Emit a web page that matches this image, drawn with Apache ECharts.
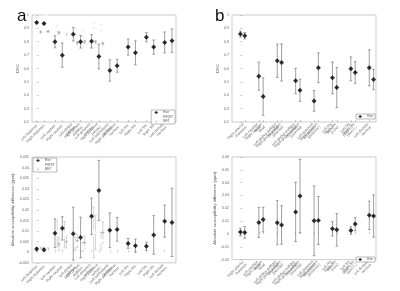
<!DOCTYPE html>
<html>
<head>
<meta charset="utf-8">
<script src="https://cdn.jsdelivr.net/npm/echarts@6/dist/echarts.min.js"></script>
<style>
html, body { margin: 0; padding: 0; background: #fff; }
#chart { width: 400px; height: 291px; }
</style>
</head>
<body>
<div id="chart"></div>
<script>
// region labels (two per group, left / right)
var aLabels = ['Left thalamus', 'Right thalamus', 'Left caudate', 'Right caudate',
    'Left globus\npallidus', 'Right globus\npallidus', 'Left putamen\n(whole)', 'Right putamen\n(whole)',
    'Left subthalamic\nnucleus', 'Right subthalamic\nnucleus', 'Left RN', 'Right RN',
    'Left SN', 'Right SN', 'Left dentate\nnucleus', 'Right dentate\nnucleus'];
var bLabels = ['Left anterior\nthalamus', 'Right anterior\nthalamus', 'Left caudate\nhead', 'Right caudate\nhead',
    'Left globus pallidus\n(internal)', 'Right globus pallidus\n(internal)', 'Left globus pallidus\n(external)', 'Right globus pallidus\n(external)',
    'Left putamen\n(posterior)', 'Right putamen\n(posterior)', 'Left RN\n(core)', 'Right RN\n(core)',
    'Left SN\n(pars c.)', 'Right SN\n(pars c.)', 'Left dentate\nnucleus', 'Right dentate\nnucleus'];

// panel a, DSC
var aDscEve = [0.943, 0.936, 0.80, 0.70, 0.856, 0.80, 0.803, 0.69, 0.585, 0.62, 0.76, 0.717, 0.834, 0.76, 0.795, 0.808];
var aDscEveErr = [0.008, 0.008, 0.045, 0.09, 0.05, 0.047, 0.05, 0.092, 0.08, 0.048, 0.06, 0.09, 0.034, 0.053, 0.078, 0.088];
var aDscFirst = [0.975, 0.985, 0.90, 0.865, 0.875, 0.862, 0.92, 0.905];
var aDscFirstErr = [0.01, 0.01, 0.02, 0.01, 0.02, 0.02, 0.02, 0.02];
var aDscBet = [0.873, 0.877, 0.868, 0.86, 0.793, 0.80, 0.80, 0.786];
var aDscBetErr = [0.005, 0.005, 0.01, 0.01, 0.01, 0.01, 0.01, 0.01];

// panel a, absolute susceptibility difference (ppm)
var aSusEve = [0.0015, 0.0012, 0.009, 0.0113, 0.0088, 0.007, 0.017, 0.0292, 0.0104, 0.0108, 0.0042, 0.0031, 0.0028, 0.0082, 0.0147, 0.0141];
var aSusEveErr = [0.0008, 0.0008, 0.0068, 0.0055, 0.0125, 0.0096, 0.0086, 0.0142, 0.0082, 0.0056, 0.0023, 0.0031, 0.0019, 0.0091, 0.0076, 0.0161];
var aSusFirst = [0.0008, 0.0009, 0.0088, 0.0085, 0.004, 0.0025, 0.0093, 0.0054];
var aSusFirstErr = [0.0008, 0.0008, 0.006, 0.006, 0.003, 0.002, 0.012, 0.004];
var aSusBet = [0.0016, 0.0013, 0.0039, 0.005, 0.0054, 0.0046, 0.0093, 0.0093];
var aSusBetErr = [0.0008, 0.0008, 0.003, 0.003, 0.003, 0.003, 0.008, 0.005];

// panel b, Eve only
var bDscEve = [0.8575, 0.845, 0.5425, 0.39, 0.6575, 0.645, 0.5075, 0.4375, 0.3575, 0.605, 0.53, 0.4575, 0.5975, 0.57, 0.605, 0.5175];
var bDscEveErr = [0.023, 0.024, 0.105, 0.14, 0.125, 0.139, 0.094, 0.083, 0.077, 0.111, 0.119, 0.15, 0.089, 0.081, 0.134, 0.076];
var bSusEve = [0.0015, 0.0012, 0.009, 0.0112, 0.0088, 0.007, 0.0172, 0.0295, 0.0102, 0.0105, 0.004, 0.0032, 0.0027, 0.0077, 0.0145, 0.014];
var bSusEveErr = [0.003, 0.0046, 0.0117, 0.0096, 0.0172, 0.015, 0.0231, 0.0287, 0.0272, 0.0187, 0.0056, 0.0127, 0.003, 0.0052, 0.0111, 0.0165];

// x position of each point: group index plus an offset inside the pair
function positions(pairGap) {
    var xs = [];
    for (var g = 0; g < 8; g++) {
        xs.push(g, g + pairGap);
    }
    return xs;
}
var aX = positions(0.4);
var bX = positions(0.235);

var chart = echarts.init(document.getElementById('chart'));

var eveColor = '#000';
var eveBar = '#777';
var grayBar = '#c4c4c4';
var betStar = 'path://M0,-5 L1.2,-1.2 L5,0 L1.2,1.2 L0,5 L-1.2,1.2 L-5,0 L-1.2,-1.2 Z';

function errRender(color, cap) {
    return function (params, api) {
        var x = api.value(0);
        var top = api.coord([x, api.value(2)]);
        var bot = api.coord([x, api.value(1)]);
        var st = { stroke: color, lineWidth: 0.7 };
        return {
            type: 'group',
            children: [
                { type: 'line', shape: { x1: top[0], y1: top[1], x2: bot[0], y2: bot[1] }, style: st },
                { type: 'line', shape: { x1: top[0] - cap, y1: top[1], x2: top[0] + cap, y2: top[1] }, style: st },
                { type: 'line', shape: { x1: bot[0] - cap, y1: bot[1], x2: bot[0] + cap, y2: bot[1] }, style: st }
            ]
        };
    };
}

function pointSeries(name, idx, xs, means, errs, opts) {
    var pts = [], bars = [];
    for (var i = 0; i < means.length; i++) {
        var x = xs[i] + (opts.shift || 0);
        pts.push([x, means[i]]);
        bars.push([x, means[i] - errs[i], means[i] + errs[i]]);
    }
    return [{
        type: 'scatter',
        name: name,
        xAxisIndex: idx,
        yAxisIndex: idx,
        symbol: opts.symbol,
        symbolSize: opts.size,
        itemStyle: opts.style,
        data: pts,
        z: opts.z + 1
    }, {
        type: 'custom',
        name: name,
        xAxisIndex: idx,
        yAxisIndex: idx,
        renderItem: errRender(opts.bar, 1.3),
        encode: { x: 0, y: [1, 2] },
        itemStyle: { color: opts.bar },
        data: bars,
        z: opts.z,
        silent: true
    }];
}

// FIRST and BET only exist for the first four groups
function firstFourX(xs) {
    return xs.slice(0, 8);
}

var eveOpts = { symbol: 'diamond', size: 5, style: { color: eveColor }, bar: eveBar, z: 10 };
var firstOpts = { symbol: 'emptyDiamond', size: 4, style: { color: '#fff', borderColor: '#9a9a9a', borderWidth: 0.7 }, bar: grayBar, z: 6, shift: 0.12 };
var betOpts = { symbol: betStar, size: 4, style: { color: '#999' }, bar: grayBar, z: 5, shift: 0.22 };

function xAxis(idx, xs, labels, min, max) {
    return {
        type: 'value',
        gridIndex: idx,
        min: min,
        max: max,
        splitLine: { show: false },
        axisLine: { show: false },
        axisTick: { show: true, inside: true, length: 2, customValues: xs, lineStyle: { color: '#999', width: 0.5 } },
        axisLabel: {
            customValues: xs,
            rotate: 45,
            fontSize: 3.6,
            lineHeight: 4,
            color: '#666',
            margin: 3,
            fontFamily: 'Liberation Sans',
            formatter: function (v) {
                for (var i = 0; i < xs.length; i++) {
                    if (Math.abs(xs[i] - v) < 1e-6) return labels[i];
                }
                return '';
            }
        }
    };
}

function yAxis(idx, min, max, step, title, gap) {
    return {
        type: 'value',
        gridIndex: idx,
        min: min,
        max: max,
        interval: step,
        name: title,
        nameLocation: 'middle',
        nameGap: gap,
        nameRotate: 90,
        nameTextStyle: { fontSize: 4.2, color: '#555', fontFamily: 'Liberation Sans' },
        splitLine: { show: false },
        axisLine: { show: false },
        axisTick: { show: true, inside: true, length: 2, lineStyle: { color: '#999', width: 0.5 } },
        axisLabel: {
            fontSize: 3.6,
            color: '#666',
            margin: 3,
            fontFamily: 'Liberation Sans',
            formatter: function (v) { return String(+v.toFixed(4)); }
        }
    };
}

var gridBase = { show: true, borderColor: '#aaa', borderWidth: 0.6, backgroundColor: '#fff', containLabel: false };

var legendItems = {
    Eve: { name: 'Eve', icon: 'diamond', itemStyle: { color: '#000' } },
    FIRST: { name: 'FIRST', icon: 'emptyDiamond', itemStyle: { color: '#fff', borderColor: '#999', borderWidth: 0.7 } },
    BET: { name: 'BET', icon: betStar, itemStyle: { color: '#999' } }
};

function legendBox(names, pos) {
    return Object.assign({
        data: names.map(function (n) { return legendItems[n]; }),
        orient: 'vertical',
        itemWidth: 4,
        itemHeight: 3,
        itemGap: 0.5,
        padding: [1, 2, 1, 2],
        borderColor: '#777',
        borderWidth: 0.5,
        backgroundColor: '#fff',
        selectedMode: false,
        textStyle: { fontSize: 3.4, color: '#555', fontFamily: 'Liberation Sans' }
    }, pos);
}

var series = []
    .concat(pointSeries('Eve', 0, aX, aDscEve, aDscEveErr, eveOpts))
    .concat(pointSeries('FIRST', 0, firstFourX(aX), aDscFirst, aDscFirstErr, firstOpts))
    .concat(pointSeries('BET', 0, firstFourX(aX), aDscBet, aDscBetErr, betOpts))
    .concat(pointSeries('Eve', 1, bX, bDscEve, bDscEveErr, eveOpts))
    .concat(pointSeries('Eve', 2, aX, aSusEve, aSusEveErr, eveOpts))
    .concat(pointSeries('FIRST', 2, firstFourX(aX), aSusFirst, aSusFirstErr, firstOpts))
    .concat(pointSeries('BET', 2, firstFourX(aX), aSusBet, aSusBetErr, betOpts))
    .concat(pointSeries('Eve', 3, bX, bSusEve, bSusEveErr, eveOpts));

var option = {
    animation: false,
    backgroundColor: '#fff',
    textStyle: { fontFamily: 'Liberation Sans' },
    title: [
        { text: 'a', left: 12, top: 3, textStyle: { fontSize: 17, fontWeight: 'normal', color: '#111', fontFamily: 'Liberation Sans' } },
        { text: 'b', left: 210, top: 3, textStyle: { fontSize: 17, fontWeight: 'normal', color: '#111', fontFamily: 'Liberation Sans' } }
    ],
    grid: [
        Object.assign({ left: 32, top: 15, width: 144, height: 107 }, gridBase),
        Object.assign({ left: 232, top: 15, width: 144, height: 107 }, gridBase),
        Object.assign({ left: 32, top: 157, width: 144, height: 107 }, gridBase),
        Object.assign({ left: 232, top: 157, width: 144, height: 107 }, gridBase)
    ],
    xAxis: [
        xAxis(0, aX, aLabels, -0.257, 7.619),
        xAxis(1, bX, bLabels, -0.458, 7.366),
        xAxis(2, aX, aLabels, -0.257, 7.619),
        xAxis(3, bX, bLabels, -0.458, 7.366)
    ],
    yAxis: [
        yAxis(0, 0.2, 1, 0.1, 'DSC', 11),
        yAxis(1, 0.2, 1, 0.1, 'DSC', 11),
        yAxis(2, -0.005, 0.045, 0.005, 'Absolute susceptibility difference (ppm)', 16),
        yAxis(3, -0.02, 0.06, 0.01, 'Absolute susceptibility difference (ppm)', 14)
    ],
    legend: [
        legendBox(['Eve', 'FIRST', 'BET'], { right: 225, top: 110 }),
        legendBox(['Eve'], { right: 25, top: 114 }),
        legendBox(['Eve', 'FIRST', 'BET'], { left: 33, top: 158 }),
        legendBox(['Eve'], { right: 25, top: 257 })
    ],
    series: series
};

chart.setOption(option);
</script>
</body>
</html>
